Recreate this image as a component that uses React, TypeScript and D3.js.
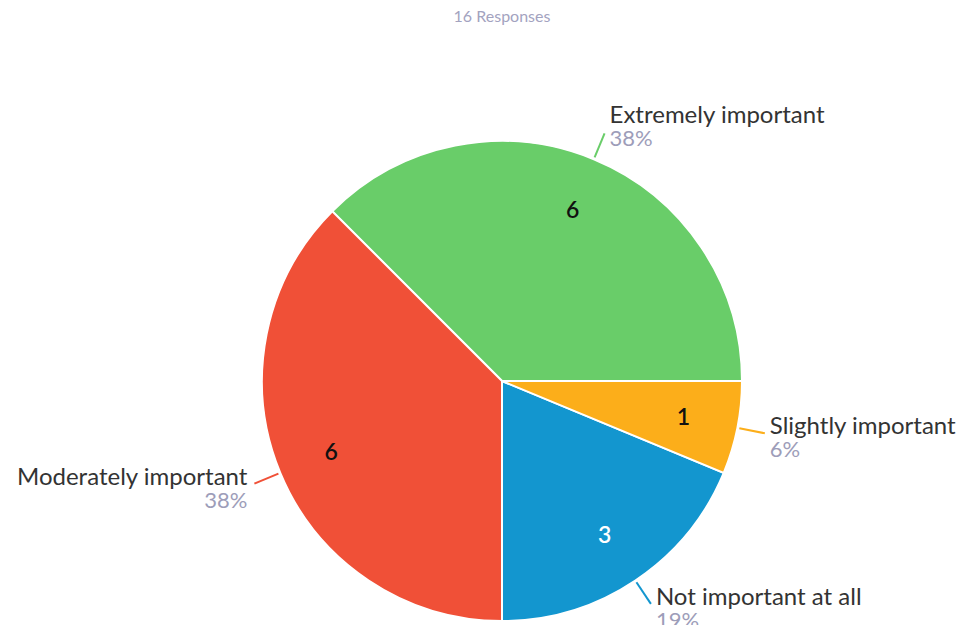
import React from "react";
import * as d3 from "d3";

const categories = ["Extremely important", "Moderately important", "Not important at all", "Slightly important"];
const counts = [6, 6, 3, 1];
const percentLabels = ["38%", "38%", "19%", "6%"];
const colors = ["#69CD69", "#F05037", "#1396CF", "#FCAE1A"];
const innerTextColors = ["#111111", "#111111", "#ffffff", "#111111"];
const title = "16 Responses";

const W = 970;
const H = 633;
const cx = 502;
const cy = 381;
const R = 240;

export default function App() {
  const data = categories.map((c, i) => ({ c, v: counts[i], i }));
  const pie = d3
    .pie<any>()
    .value((d) => d.v)
    .sort(null)
    .startAngle(Math.PI / 2)
    .endAngle(Math.PI / 2 - 2 * Math.PI);
  const arcs = pie(data);
  const arc = d3.arc<any>().innerRadius(0).outerRadius(R);
  const labelArc = d3.arc<any>().innerRadius(185).outerRadius(185);
  const font = "Lato, 'Open Sans', sans-serif";

  return (
    <div style={{ margin: -8, height: H, overflow: "hidden" }}>
      <svg width={W} height={H} style={{ display: "block", background: "#fff" }}>
        <text x={cx} y={22} textAnchor="middle" fontFamily={font} fontSize={16} fill="#A3A3BF">
          {title}
        </text>
        <g transform={`translate(${cx},${cy})`}>
          {arcs.map((a, k) => (
            <path key={k} d={arc(a) as string} fill={colors[a.data.i]} stroke="#fff" strokeWidth={2} />
          ))}
          {arcs.map((a, k) => {
            const [x, y] = labelArc.centroid(a);
            return (
              <text
                key={"n" + k}
                x={x}
                y={y}
                dy="0.36em"
                textAnchor="middle"
                fontFamily={font}
                fontSize={23}
                fontWeight={600}
                fill={innerTextColors[a.data.i]}
              >
                {a.data.v}
              </text>
            );
          })}
          {arcs.map((a, k) => {
            const mid = (a.startAngle + a.endAngle) / 2;
            const sx = Math.sin(mid);
            const sy = -Math.cos(mid);
            const x1 = sx * (R + 2);
            const y1 = sy * (R + 2);
            const x2 = sx * (R + 28);
            const y2 = sy * (R + 28);
            const right = sx >= 0;
            const tx = right ? x2 + 5 : x2 - 7;
            const base = sy < -0.7 ? y2 - 10 : y2 + 1;
            return (
              <g key={"l" + k}>
                <line x1={x1} y1={y1} x2={x2} y2={y2} stroke={colors[a.data.i]} strokeWidth={2} />
                <text
                  x={tx}
                  y={base}
                  textAnchor={right ? "start" : "end"}
                  fontFamily={font}
                  fontSize={24}
                  fill="#333333"
                >
                  {a.data.c}
                </text>
                <text
                  x={tx}
                  y={base + 23}
                  textAnchor={right ? "start" : "end"}
                  fontFamily={font}
                  fontSize={22}
                  fill="#9D9DB9"
                >
                  {percentLabels[a.data.i]}
                </text>
              </g>
            );
          })}
        </g>
      </svg>
    </div>
  );
}
